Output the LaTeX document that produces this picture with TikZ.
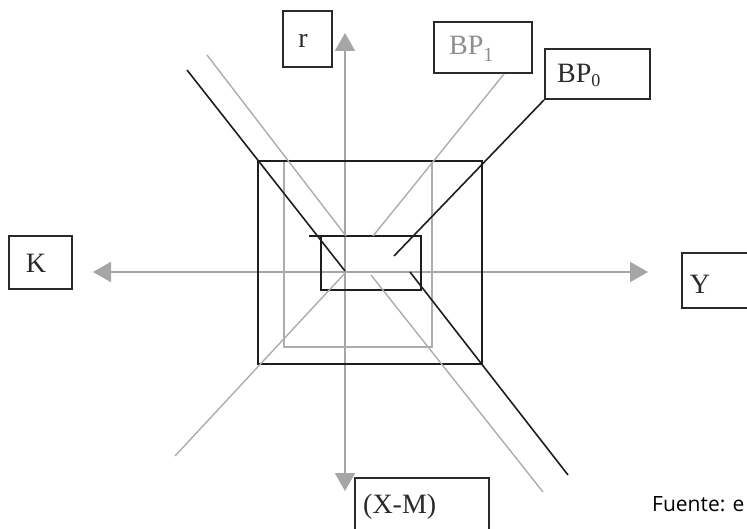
\documentclass[tikz,border=0pt]{standalone}
\usepackage{fontspec}
\setmainfont{Liberation Serif}
\newfontfamily\notefont{Open Sans}
\usetikzlibrary{arrows.meta}

\definecolor{axisgray}{HTML}{A6A6A6}
\definecolor{linegray}{HTML}{ADADAD}
\definecolor{ink}{HTML}{1E1E1E}
\definecolor{tagink}{HTML}{2A2A2A}

\tikzset{
  labelbox/.style={draw=tagink, line width=2pt, inner sep=0pt},
  axis/.style={draw=axisgray, line width=2pt,
    -{Triangle[width=20pt,length=18pt]}, color=axisgray},
  blackline/.style={draw=ink, line width=1.6pt},
  grayline/.style={draw=linegray, line width=1.4pt},
  tag/.style={font=\fontsize{28}{28}\selectfont, inner sep=0pt, text=tagink},
}

\begin{document}
\begin{tikzpicture}[x=1pt,y=-1pt]
\useasboundingbox (0,0) rectangle (747,529);
\fill[white] (0,0) rectangle (747,529);

% ---- axes ----
\coordinate (O) at (345,272);
\coordinate (up) at (345,33);
\coordinate (down) at (345,491);
\coordinate (left) at (93,272);
\coordinate (right) at (648,272);
\draw[axis] (O) -- (up);
\draw[axis] (O) -- (down);
\draw[axis] (O) -- (left);
\draw[axis] (O) -- (right);

% ---- grey frame and grey schedules ----
\draw[grayline] (284,161) rectangle (432,347);
\coordinate (g1a) at (373,236);
\coordinate (g1b) at (346,272);
\coordinate (g1c) at (175,456);
\coordinate (g2a) at (207,55);
\coordinate (g2b) at (346,236);
\coordinate (g2c) at (371,275);
\coordinate (g2d) at (543,492);

% ---- black frames ----
\draw[blackline] (258,161) rectangle (482,364);
\draw[blackline] (321,236) rectangle (421,290);
\draw[blackline] (309,236) -- (321,236);

% ---- black schedules ----
\coordinate (b1a) at (187,70);
\coordinate (b1b) at (345,271);
\coordinate (b2a) at (410,272);
\coordinate (b2b) at (568,475);
\coordinate (b3b) at (394,256);
\draw[blackline] (b1a) -- (b1b);
\draw[blackline] (b2a) -- (b2b);

% ---- label boxes ----
\node[labelbox, minimum width=49pt, minimum height=56pt] (rbox) at (307.5,39) {};
\node[labelbox, minimum width=98pt, minimum height=51pt] (bp1box) at (483,47.5) {};
\node[labelbox, minimum width=105pt, minimum height=50pt] (bp0box) at (597.5,74) {};
\node[labelbox, minimum width=63pt, minimum height=53pt] (kbox) at (40.5,262.5) {};
\node[labelbox, minimum width=88pt, minimum height=55pt] (ybox) at (726,280.5) {};
\node[labelbox, minimum width=134pt, minimum height=67pt] (xmbox) at (422,511.5) {};

% grey schedule BP1, hanging from its label
\draw[grayline] (504,74) -- (g1a);
\draw[grayline] (g1b) -- (g1c);
\draw[grayline] (g2a) -- (g2b);
\draw[grayline] (g2c) -- (g2d);
% black schedule BP0, hanging from its label
\draw[blackline] (bp0box.south west) -- (b3b);

% ---- texts ----
\node[tag, anchor=base] (rtext) at (303,48) {r};
\node[tag, anchor=base west, text=axisgray!85!black] (bp1text) at (449,55)
  {BP\raisebox{-7pt}{\fontsize{20}{20}\selectfont 1}};
\node[tag, anchor=base west] (bp0text) at (557,83)
  {BP\raisebox{-4pt}{\fontsize{18}{18}\selectfont 0}};
\node[tag, anchor=base] (ktext) at (36,273) {K};
\node[tag, anchor=base] (ytext) at (700,294) {Y};
\node[tag, anchor=base west] (xmtext) at (363,513) {(X-M)};
\node[anchor=base west, inner sep=0pt, font=\notefont\fontsize{21}{21}\selectfont,
  text=black] (source) at (652,511) {Fuente: e};
\end{tikzpicture}
\end{document}
